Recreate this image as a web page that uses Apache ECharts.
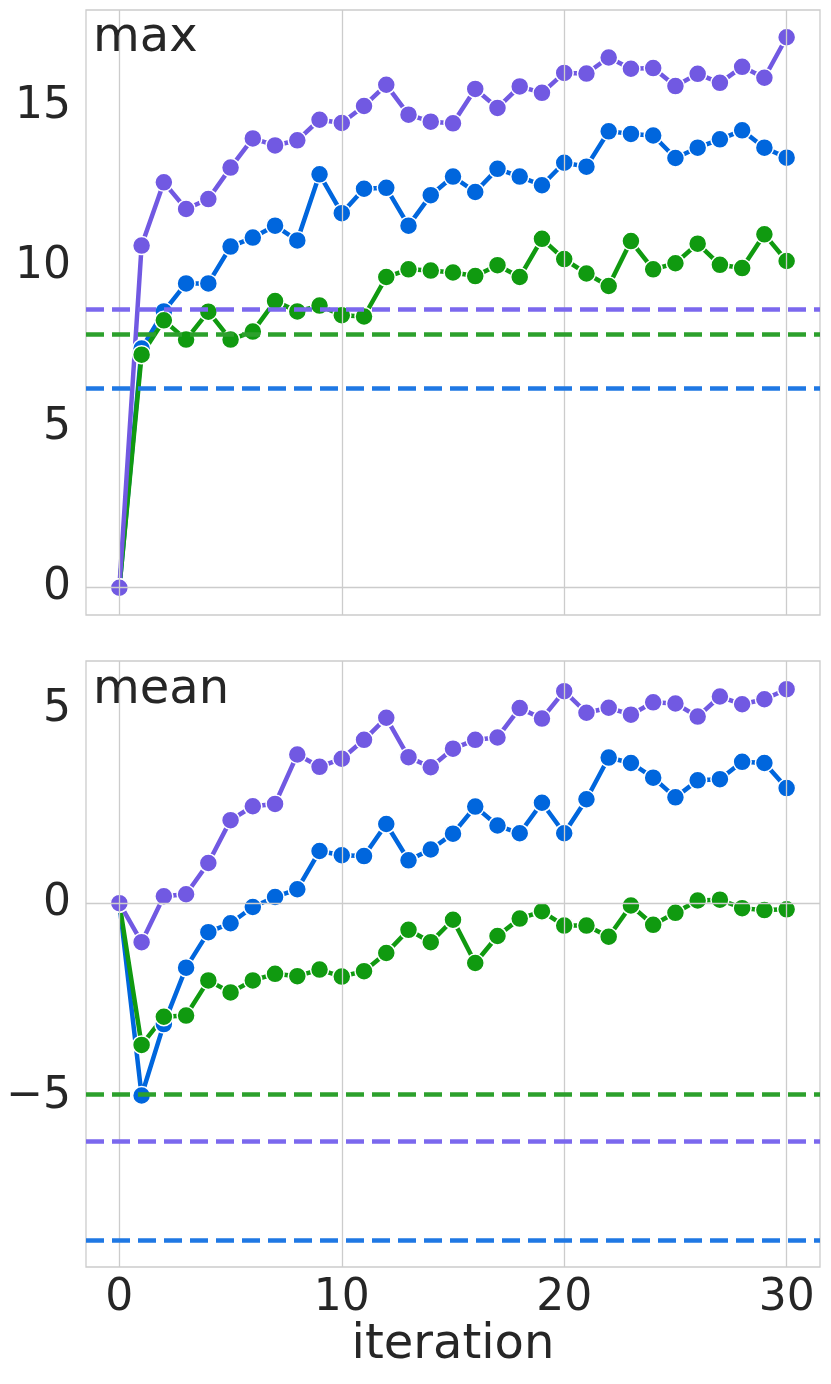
<!DOCTYPE html>
<html>
<head>
<meta charset="utf-8">
<script src="https://cdn.jsdelivr.net/npm/echarts@6/dist/echarts.min.js"></script>
<style>
  html, body { margin: 0; padding: 0; background: #fff; }
  #chart { width: 831px; height: 1384px; }
</style>
</head>
<body>
<div id="chart"></div>
<script>
var iterations = [0, 1, 2, 3, 4, 5, 6, 7, 8, 9, 10, 11, 12, 13, 14, 15, 16, 17, 18, 19, 20, 21, 22, 23, 24, 25, 26, 27, 28, 29, 30];

// max panel
var maxBlue = [0, 7.45, 8.61, 9.48, 9.48, 10.63, 10.91, 11.28, 10.82, 12.88, 11.67, 12.43, 12.46, 11.28, 12.23, 12.81, 12.33, 13.05, 12.81, 12.54, 13.24, 13.12, 14.22, 14.14, 14.09, 13.39, 13.71, 13.97, 14.25, 13.71, 13.40];
var maxGreen = [0, 7.26, 8.33, 7.73, 8.60, 7.73, 7.98, 8.93, 8.61, 8.79, 8.49, 8.45, 9.68, 9.92, 9.88, 9.82, 9.71, 10.05, 9.68, 10.87, 10.24, 9.79, 9.40, 10.80, 9.92, 10.11, 10.72, 10.06, 9.96, 11.01, 10.18];
var maxPurple = [0, 10.66, 12.63, 11.80, 12.11, 13.09, 14.00, 13.78, 13.94, 14.58, 14.48, 15.01, 15.67, 14.74, 14.52, 14.47, 15.54, 14.95, 15.62, 15.42, 16.04, 16.02, 16.52, 16.17, 16.19, 15.63, 16.01, 15.73, 16.23, 15.89, 17.15];
var maxRefs = [6.21, 7.90, 8.68]; // blue, green, purple

// mean panel
var meanBlue = [0, -4.98, -3.13, -1.67, -0.75, -0.52, -0.10, 0.16, 0.36, 1.35, 1.24, 1.22, 2.05, 1.11, 1.39, 1.80, 2.50, 2.01, 1.81, 2.60, 1.81, 2.69, 3.77, 3.63, 3.25, 2.74, 3.18, 3.21, 3.66, 3.63, 2.98];
var meanGreen = [0, -3.67, -2.94, -2.91, -2.00, -2.31, -2.00, -1.83, -1.89, -1.72, -1.90, -1.76, -1.29, -0.69, -1.01, -0.43, -1.55, -0.85, -0.40, -0.21, -0.58, -0.58, -0.87, -0.06, -0.56, -0.25, 0.07, 0.09, -0.13, -0.18, -0.16];
var meanPurple = [0, -1.01, 0.18, 0.23, 1.04, 2.15, 2.51, 2.57, 3.85, 3.53, 3.74, 4.23, 4.80, 3.78, 3.52, 4.00, 4.23, 4.29, 5.05, 4.78, 5.49, 4.93, 5.06, 4.88, 5.20, 5.17, 4.83, 5.35, 5.15, 5.28, 5.54];
var meanRefs = [-8.72, -4.94, -6.16]; // blue, green, purple

var xTicks = [0, 10, 20, 30];
var maxTicks = [0, 5, 10, 15];
var meanTicks = [-5, 0, 5];

var lineColors = ['#0066dd', '#109a10', '#7159e2'];
var refColors = ['#1f78e4', '#2ca02c', '#7b68ee'];
var font = 'DejaVu Sans';
var textColor = '#262626';
var gridColor = '#cccccc';

function pairs(ys) {
	var out = [];
	for (var i = 0; i < iterations.length; i++) {
		out.push([iterations[i], ys[i]]);
	}
	return out;
}

function xAxisFor(idx, showLabels) {
	return {
		type: 'value', gridIndex: idx, min: -1.5, max: 31.5,
		axisLine: { show: false }, axisTick: { show: false }, splitLine: { show: false },
		axisLabel: {
			show: showLabels, customValues: xTicks, margin: 10,
			fontFamily: font, fontSize: 44, color: textColor
		},
		name: showLabels ? 'iteration' : '',
		nameLocation: 'middle', nameGap: 54,
		nameTextStyle: { fontFamily: font, fontSize: 48, color: textColor }
	};
}

function yAxisFor(idx, min, max, ticks) {
	return {
		type: 'value', gridIndex: idx, min: min, max: max,
		axisLine: { show: false }, axisTick: { show: false }, splitLine: { show: false },
		axisLabel: {
			customValues: ticks, margin: 15,
			fontFamily: font, fontSize: 44, color: textColor,
			formatter: function (v) { return String(v).replace('-', '\u2212'); }
		}
	};
}

// grid lines + dashed reference lines, drawn under the data
function backgroundSeries(idx, refs) {
	var lines = [];
	for (var i = 0; i < xTicks.length; i++) {
		lines.push({ xAxis: xTicks[i], lineStyle: { color: gridColor, width: 1.3, type: 'solid' } });
	}
	lines.push({ yAxis: 0, lineStyle: { color: gridColor, width: 1.3, type: 'solid' } });
	for (var j = 0; j < refs.length; j++) {
		lines.push({ yAxis: refs[j], lineStyle: { color: refColors[j], width: 4.5, type: [18, 8] } });
	}
	return {
		type: 'line', xAxisIndex: idx, yAxisIndex: idx, data: [], z: 1, silent: true,
		markLine: { symbol: 'none', silent: true, animation: false, label: { show: false }, data: lines }
	};
}

function dataSeries(idx, ys, c) {
	return {
		type: 'line', xAxisIndex: idx, yAxisIndex: idx, data: pairs(ys), z: 3,
		symbol: 'circle', symbolSize: 18, showAllSymbol: true,
		lineStyle: { color: lineColors[c], width: 4.5 },
		itemStyle: { color: lineColors[c], borderColor: '#ffffff', borderWidth: 1.5 }
	};
}

var option = {
	animation: false,
	backgroundColor: '#ffffff',
	title: [
		{ text: 'max', left: 93, top: 15, padding: 0, textStyle: { fontFamily: font, fontSize: 48, fontWeight: 'normal', color: textColor, lineHeight: 48 } },
		{ text: 'mean', left: 93, top: 667, padding: 0, textStyle: { fontFamily: font, fontSize: 48, fontWeight: 'normal', color: textColor, lineHeight: 48 } }
	],
	grid: [
		{ left: 86, top: 10, width: 734, height: 605, show: true, borderColor: gridColor, borderWidth: 1.3 },
		{ left: 86, top: 661, width: 734, height: 606, show: true, borderColor: gridColor, borderWidth: 1.3 }
	],
	xAxis: [xAxisFor(0, false), xAxisFor(1, true)],
	yAxis: [yAxisFor(0, -0.85, 18.0, maxTicks), yAxisFor(1, -9.42, 6.27, meanTicks)],
	series: [
		backgroundSeries(0, maxRefs),
		dataSeries(0, maxBlue, 0),
		dataSeries(0, maxGreen, 1),
		dataSeries(0, maxPurple, 2),
		backgroundSeries(1, meanRefs),
		dataSeries(1, meanBlue, 0),
		dataSeries(1, meanGreen, 1),
		dataSeries(1, meanPurple, 2)
	]
};

var myChart = echarts.init(document.getElementById('chart'));
myChart.setOption(option);
</script>
</body>
</html>
